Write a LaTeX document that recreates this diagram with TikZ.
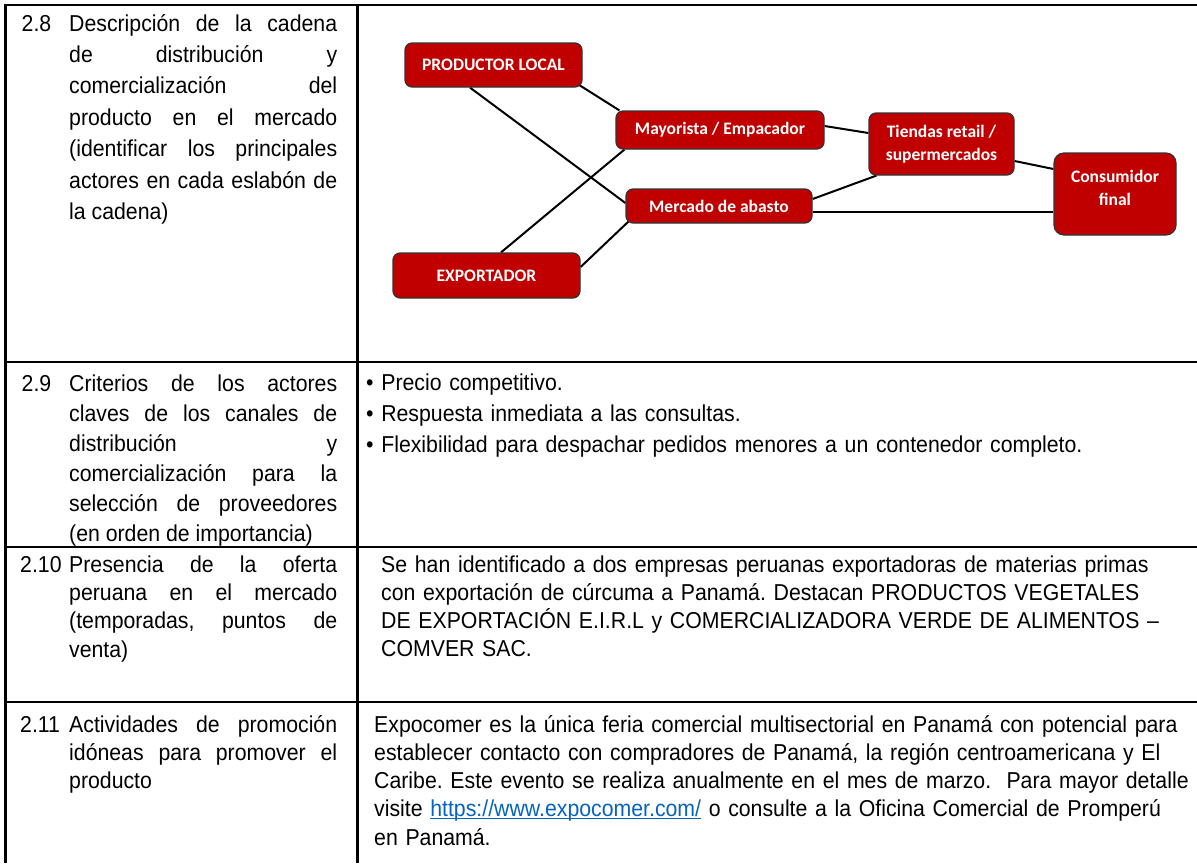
\documentclass[tikz,border=0pt]{standalone}
\usepackage{fontspec}
\setmainfont{Liberation Sans}[FakeStretch=0.925]
\newfontfamily\boxfont{Carlito}
\usetikzlibrary{backgrounds}
\definecolor{boxred}{RGB}{192,0,0}
\definecolor{linkblue}{RGB}{5,99,193}
\newcommand{\boxcol}{boxred}
\newcommand{\rulecol}{black}
\frenchspacing

\tikzset{
  actor/.style={draw=black!80, line width=1.2pt, fill=\boxcol, rounded corners=7pt,
    text=white, font=\boxfont\bfseries\fontsize{17.5}{22.5}\selectfont, align=center, inner sep=0pt},
  link/.style={draw=black, line width=2pt},
  gridline/.style={draw=\rulecol, line width=2.5pt},
  num/.style={anchor=base west, inner sep=0pt},
  cell/.style={anchor=base west, inner sep=0pt, text width=268pt, align=justify},
  body/.style={anchor=base west, inner sep=0pt, text width=900pt, align=left},
}

\begin{document}
\begin{tikzpicture}[x=1pt, y=-1pt]

    \useasboundingbox (0,0) rectangle (1197,863);

    % table
    \draw[gridline] (5.5,863) -- (5.5,5) -- (1197,5);
    \draw[gridline] (357.5,5) -- (357.5,863);
    \draw[gridline] (5.5,362) -- (1197,362);
    \draw[gridline] (5.5,547) -- (1197,547);
    \draw[gridline] (5.5,702) -- (1197,702);

    % left column
    \node[num, font=\fontsize{23}{31.4}\selectfont] (n8) at (21.5,31) {2.8};
    \node[cell, font=\fontsize{23}{31.4}\selectfont] (t8) at (69,31) {\noindent
      Descripción de la cadena\linebreak de distribución y\linebreak
      comercialización del\linebreak producto en el mercado\linebreak
      (identificar los principales\linebreak actores en cada eslabón de\linebreak
      la cadena)};

    \node[num, font=\fontsize{23}{30}\selectfont] (n9) at (21.5,391) {2.9};
    \node[cell, font=\fontsize{23}{30}\selectfont] (t9) at (69,391) {\noindent
      Criterios de los actores\linebreak claves de los canales de\linebreak
      distribución y\linebreak comercialización para la\linebreak
      selección de proveedores\linebreak (en orden de importancia)};

    \node[num, font=\fontsize{23}{28.4}\selectfont] (n10) at (20,572) {2.10};
    \node[cell, font=\fontsize{23}{28.4}\selectfont] (t10) at (69,572) {\noindent
      Presencia de la oferta\linebreak peruana en el mercado\linebreak
      (temporadas, puntos de\linebreak venta)};

    \node[num, font=\fontsize{23}{28.4}\selectfont] (n11) at (20,732) {2.11};
    \node[cell, font=\fontsize{23}{28.4}\selectfont] (t11) at (69,732) {\noindent
      Actividades de promoción\linebreak idóneas para promover el\linebreak
      producto};

    % right column
    \node[body, font=\fontsize{23}{31}\selectfont] (c9) at (366,390) {\noindent
      • Precio competitivo.\\
      • Respuesta inmediata a las consultas.\\
      • Flexibilidad para despachar pedidos menores a un contenedor completo.};

    \node[body, font=\fontsize{23}{28.3}\selectfont] (c10) at (381,572) {\noindent
      Se han identificado a dos empresas peruanas exportadoras de materias primas\\
      con exportación de cúrcuma a Panamá. Destacan PRODUCTOS VEGETALES\\
      DE EXPORTACIÓN E.I.R.L y COMERCIALIZADORA VERDE DE ALIMENTOS –\\
      COMVER SAC.};

    \node[body, font=\fontsize{23}{28.3}\selectfont] (c11) at (374,732) {\noindent
      Expocomer es la única feria comercial multisectorial en Panamá con potencial para\\
      establecer contacto con compradores de Panamá, la región centroamericana y El\\
      Caribe. Este evento se realiza anualmente en el mes de marzo.\ \ Para mayor detalle\\
      visite {\color{linkblue}\underline{\smash{https://www.expocomer.com/}}} o consulte a la Oficina Comercial de Promperú\\
      en Panamá.};

    % chain
    \node[actor, minimum width=177pt, minimum height=44pt] (prod) at (493.5,65) {PRODUCTOR LOCAL};
    \node[actor, minimum width=208pt, minimum height=38pt] (may) at (720,130) {Mayorista / Empacador};
    \node[actor, minimum width=186pt, minimum height=34pt] (merc) at (719,206) {Mercado de abasto};
    \node[actor, minimum width=187pt, minimum height=45pt] (exp) at (486.5,275.5) {EXPORTADOR};
    \node[actor, minimum width=145pt, minimum height=62pt] (tie) at (941.5,144) {Tiendas retail /\\supermercados};
    \node[actor, minimum width=122pt, minimum height=82pt, rounded corners=10pt,
      text depth=12pt] (con) at (1115,194) {Consumidor\\final};

    \begin{scope}[on background layer]
      \draw[link] ([xshift=-23.5pt]prod.south) -- ([yshift=3pt]merc.west);
      \draw[link] ([shift={(-4pt,3pt)}]prod.south east) -- ([xshift=4pt]may.north west);
      \draw[link] ([xshift=14.5pt]exp.north) -- ([xshift=9pt]may.south west);
      \draw[link] ([yshift=8.5pt]exp.east) -- ([shift={(3pt,2pt)}]merc.south west);
      \draw[link] ([yshift=4pt]may.east) -- ([yshift=11pt]tie.west);
      \draw[link] ([yshift=7pt]merc.east) -- ([xshift=8pt]tie.south west);
      \draw[link] ([yshift=-5.5pt]merc.east) -- ([yshift=-17.5pt]con.west);
      \draw[link] ([yshift=-17pt]tie.east) -- ([yshift=25pt]con.west);
    \end{scope}

\end{tikzpicture}
\end{document}
